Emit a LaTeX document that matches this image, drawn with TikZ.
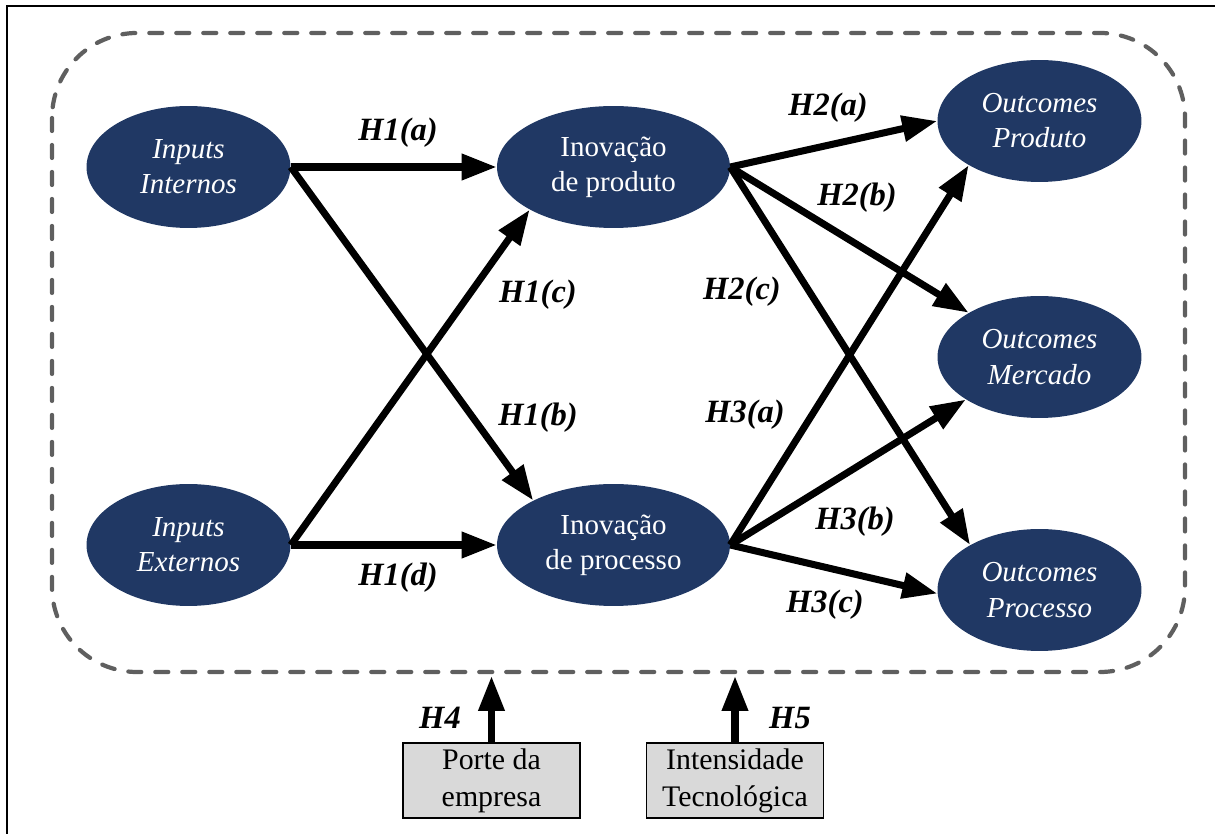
\documentclass[tikz,border=0pt]{standalone}
\usepackage{fontspec}
\setmainfont{LiberationSerif}[Extension=.ttf,
  UprightFont=*-Regular, BoldFont=*-Bold,
  ItalicFont=*-Italic, BoldItalicFont=*-BoldItalic]
\usetikzlibrary{shapes.geometric,arrows.meta}
\definecolor{navy}{RGB}{32,56,100}
\definecolor{dashgray}{RGB}{95,95,95}
\definecolor{boxgray}{RGB}{217,217,217}
\begin{document}
\begin{tikzpicture}[x=0.02cm,y=-0.02cm,
  construct/.style={ellipse, fill=navy, text=white, minimum width=4.08cm,
    minimum height=2.44cm, inner sep=0pt, align=center,
    font=\fontsize{16.5}{20}\selectfont\itshape},
  innov/.style={construct, minimum width=4.66cm, font=\fontsize{16.5}{20}\selectfont},
  hyp/.style={-{Triangle[length=0.7cm,width=0.5cm]}, line width=4pt, black},
  hlabel/.style={font=\fontsize{18.5}{22}\selectfont\bfseries\itshape, inner sep=0pt},
  factor/.style={draw=black, line width=1pt, fill=boxgray, minimum width=3.54cm,
    minimum height=1.5cm, align=center, inner sep=0pt,
    font=\fontsize{17}{21}\selectfont}
]
\useasboundingbox (0,0) rectangle (1215,834);

% page frame
\draw[line width=1.2pt] (7,834) -- (7,6) -- (1215,6);

% scope of the model
\draw[dashgray, line width=2.4pt, dash pattern=on 0.26cm off 0.28cm, line cap=round,
  rounded corners=1.7cm] (52,33) rectangle (1185,672);

% constructs
\node[construct] (inInt) at (188.5,167) {Inputs\\Internos};
\node[construct] (inExt) at (188.5,545) {Inputs\\Externos};
\node[innov] (inovProd) at (613.5,167) {Inovação\\de produto};
\node[innov] (inovProc) at (613.5,545) {Inovação\\de processo};
\node[construct] (outProd) at (1039.5,121) {Outcomes\\Produto};
\node[construct] (outMerc) at (1039.5,357) {Outcomes\\Mercado};
\node[construct] (outProc) at (1039.5,590) {Outcomes\\Processo};

% hypotheses H1
\draw[hyp] (inInt.east) -- (inovProd.west);
\draw[hyp] (inInt.east) -- (inovProc.151.5);
\draw[hyp] (inExt.east) -- (inovProd.207.2);
\draw[hyp] (inExt.east) -- (inovProc.west);

% hypotheses H2
\draw[hyp] (inovProd.east) -- (outProd.west);
\draw[hyp] (inovProd.east) -- (outMerc.148.2);
\draw[hyp] (inovProd.east) -- (outProc.147);

% hypotheses H3
\draw[hyp] (inovProc.east) -- (outProd.212.4);
\draw[hyp] (inovProc.east) -- (outMerc.210.7);
\draw[hyp] (inovProc.east) -- (outProc.182);

% labels
\node[hlabel] (h1a) at (398,133) {H1(a)};
\node[hlabel] (h1c) at (538,295) {H1(c)};
\node[hlabel] (h1b) at (538,418) {H1(b)};
\node[hlabel] (h1d) at (398,578) {H1(d)};
\node[hlabel] (h2a) at (828,108) {H2(a)};
\node[hlabel] (h2b) at (857,198) {H2(b)};
\node[hlabel] (h2c) at (742,292) {H2(c)};
\node[hlabel] (h3a) at (745,415) {H3(a)};
\node[hlabel] (h3b) at (855,522) {H3(b)};
\node[hlabel] (h3c) at (825,605) {H3(c)};

% moderating factors
\node[factor] (porte) at (491.5,780.5) {Porte da\\empresa};
\node[factor] (intens) at (735,780.5) {Intensidade\\Tecnológica};
\coordinate (porteTip) at (491.5,676);
\coordinate (intensTip) at (735,676);
\draw[hyp] (porte.north) -- (porteTip);
\draw[hyp] (intens.north) -- (intensTip);
\node[hlabel] (h4) at (440,718) {H4};
\node[hlabel] (h5) at (790,718) {H5};
\end{tikzpicture}
\end{document}
